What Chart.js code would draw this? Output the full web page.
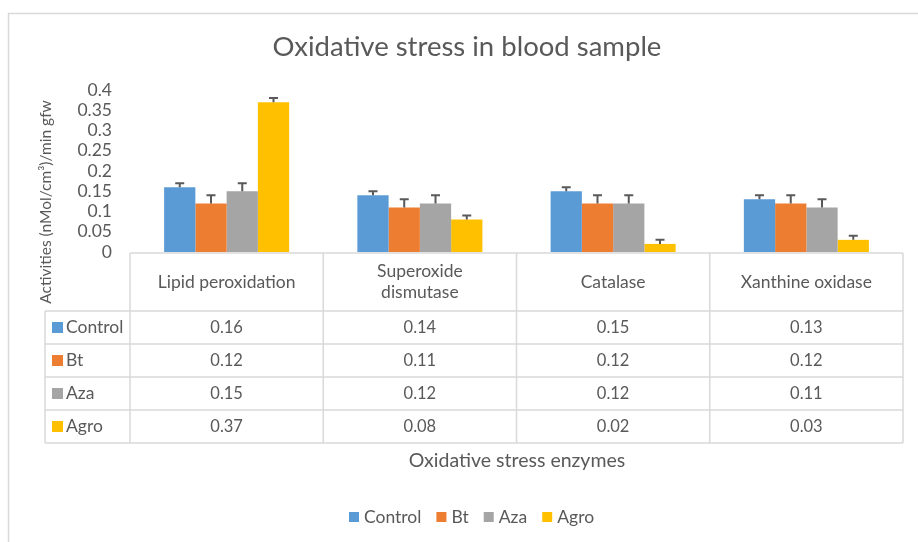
<!DOCTYPE html>
<html>
<head>
<meta charset="utf-8">
<style>
  html, body { margin: 0; padding: 0; background: #fff; }
  #wrap { width: 918px; height: 542px; }
</style>
<script src="https://cdn.jsdelivr.net/npm/chart.js@4.4.0/dist/chart.umd.min.js"></script>
</head>
<body>
<div id="wrap"><canvas id="canva1" width="918" height="542"></canvas></div>
<script>
// data
var categories = ['Lipid peroxidation', ['Superoxide', 'dismutase'], 'Catalase', 'Xanthine oxidase'];
var seriesNames = ['Control', 'Bt', 'Aza', 'Agro'];
var control = [0.16, 0.14, 0.15, 0.13];
var bt = [0.12, 0.11, 0.12, 0.12];
var aza = [0.15, 0.12, 0.12, 0.11];
var agro = [0.37, 0.08, 0.02, 0.03];
// plus-only error bars
var controlErr = [0.01, 0.01, 0.01, 0.01];
var btErr = [0.02, 0.02, 0.02, 0.02];
var azaErr = [0.02, 0.02, 0.02, 0.02];
var agroErr = [0.01, 0.01, 0.01, 0.01];

var colors = ['#5B9BD5', '#ED7D31', '#A5A5A5', '#FFC000'];
var textColor = '#595959';
var lineColor = '#D9D9D9';
var FONT = 'Lato, "Open Sans", sans-serif';

var values = [control, bt, aza, agro];
var errors = [controlErr, btErr, azaErr, agroErr];

var extras = {
    id: 'extras',
    beforeDraw: function (chart) {
        var c = chart.ctx;
        c.save();
        c.fillStyle = '#fff';
        c.fillRect(0, 0, chart.width, chart.height);
        // outer chart border (only top/left show in the crop)
        c.strokeStyle = lineColor;
        c.lineWidth = 1.5;
        c.strokeRect(8.5, 13.5, 1000, 1000);
        c.restore();
    },
    afterDatasetsDraw: function (chart) {
        var c = chart.ctx;
        var y = chart.scales.y;
        c.save();
        c.strokeStyle = '#595959';
        c.lineWidth = 2;
        for (var i = 0; i < values.length; i++) {
            var meta = chart.getDatasetMeta(i);
            meta.data.forEach(function (bar, j) {
                var top = y.getPixelForValue(values[i][j] + errors[i][j]);
                var base = y.getPixelForValue(values[i][j]);
                c.beginPath();
                c.moveTo(bar.x, base);
                c.lineTo(bar.x, top);
                c.moveTo(bar.x - 4.5, top);
                c.lineTo(bar.x + 4.5, top);
                c.stroke();
            });
        }
        c.restore();
    },
    afterDraw: function (chart) {
        var c = chart.ctx;
        var area = chart.chartArea;
        var x = chart.scales.x;
        var colW = (area.right - area.left) / categories.length;
        var tableTop = area.bottom + 1;
        var headerBottom = 311;
        var rowH = 33;
        var tableBottom = headerBottom + rowH * seriesNames.length;
        var leftEdge = 45;

        c.save();
        // title
        c.fillStyle = textColor;
        c.textAlign = 'center';
        c.textBaseline = 'middle';
        c.font = '27.5px ' + FONT;
        c.fillText('Oxidative stress in blood sample', 467, 47);

        // y axis title
        c.save();
        c.translate(46, 202);
        c.rotate(-Math.PI / 2);
        c.font = '15.5px ' + FONT;
        c.fillText('Activities (nMol/cm\u00B3)/min gfw', 0, 0);
        c.restore();

        // data table grid
        c.strokeStyle = lineColor;
        c.lineWidth = 1.5;
        c.beginPath();
        c.moveTo(area.left, tableTop);
        c.lineTo(area.right, tableTop);
        for (var k = 0; k <= categories.length; k++) {
            var gx = area.left + colW * k;
            c.moveTo(gx, tableTop);
            c.lineTo(gx, tableBottom);
        }
        for (var r = 0; r <= seriesNames.length; r++) {
            var gy = headerBottom + rowH * r;
            c.moveTo(leftEdge, gy);
            c.lineTo(area.right, gy);
        }
        c.moveTo(leftEdge, headerBottom);
        c.lineTo(leftEdge, tableBottom);
        c.stroke();

        // header labels
        c.font = '17.5px ' + FONT;
        c.fillStyle = textColor;
        categories.forEach(function (lab, j) {
            var cx = x.getPixelForValue(j);
            var lines = Array.isArray(lab) ? lab : [lab];
            var cy = (tableTop + headerBottom) / 2;
            lines.forEach(function (ln, n) {
                c.fillText(ln, cx, cy + (n - (lines.length - 1) / 2) * 21);
            });
        });

        // rows
        seriesNames.forEach(function (name, i) {
            var cy = headerBottom + rowH * i + rowH / 2;
            c.fillStyle = colors[i];
            c.fillRect(52, cy - 5.5, 11, 11);
            c.fillStyle = textColor;
            c.textAlign = 'left';
            c.font = '17.5px ' + FONT;
            c.fillText(name, 66, cy);
            c.textAlign = 'center';
            c.font = '16.5px ' + FONT;
            values[i].forEach(function (v, j) {
                c.fillText(v.toFixed(2), x.getPixelForValue(j), cy);
            });
        });

        // x axis title
        c.font = '19.5px ' + FONT;
        c.fillText('Oxidative stress enzymes', 517, 461);

        // legend
        c.font = '17.5px ' + FONT;
        c.textAlign = 'left';
        var lx = 349;
        var ly = 517;
        seriesNames.forEach(function (name, i) {
            c.fillStyle = colors[i];
            c.fillRect(lx, ly - 5, 10, 10);
            c.fillStyle = textColor;
            c.fillText(name, lx + 15, ly);
            lx += 15 + c.measureText(name).width + 15;
        });
        c.restore();
    }
};

var ctx = document.getElementById('canva1').getContext('2d');
var myChart = new Chart(ctx, {
    type: 'bar',
    data: {
        labels: categories,
        datasets: seriesNames.map(function (name, i) {
            return {
                label: name,
                data: values[i],
                backgroundColor: colors[i],
                borderWidth: 0,
                categoryPercentage: 0.647,
                barPercentage: 1
            };
        })
    },
    options: {
        responsive: false,
        animation: false,
        layout: { padding: { top: 90, bottom: 290, right: 15, left: 0 } },
        plugins: {
            legend: { display: false },
            title: { display: false },
            tooltip: { enabled: false }
        },
        scales: {
            x: { display: false },
            y: {
                min: 0,
                max: 0.4,
                afterFit: function (scale) { scale.width = 130; },
                grid: { display: false, drawTicks: false },
                border: { display: false },
                ticks: {
                    stepSize: 0.05,
                    autoSkip: false,
                    padding: 18,
                    color: textColor,
                    font: { family: 'Lato, sans-serif', size: 17.5 },
                    callback: function (v) { return String(Number(v.toFixed(2))); }
                }
            }
        }
    },
    plugins: [extras]
});
</script>
</body>
</html>
